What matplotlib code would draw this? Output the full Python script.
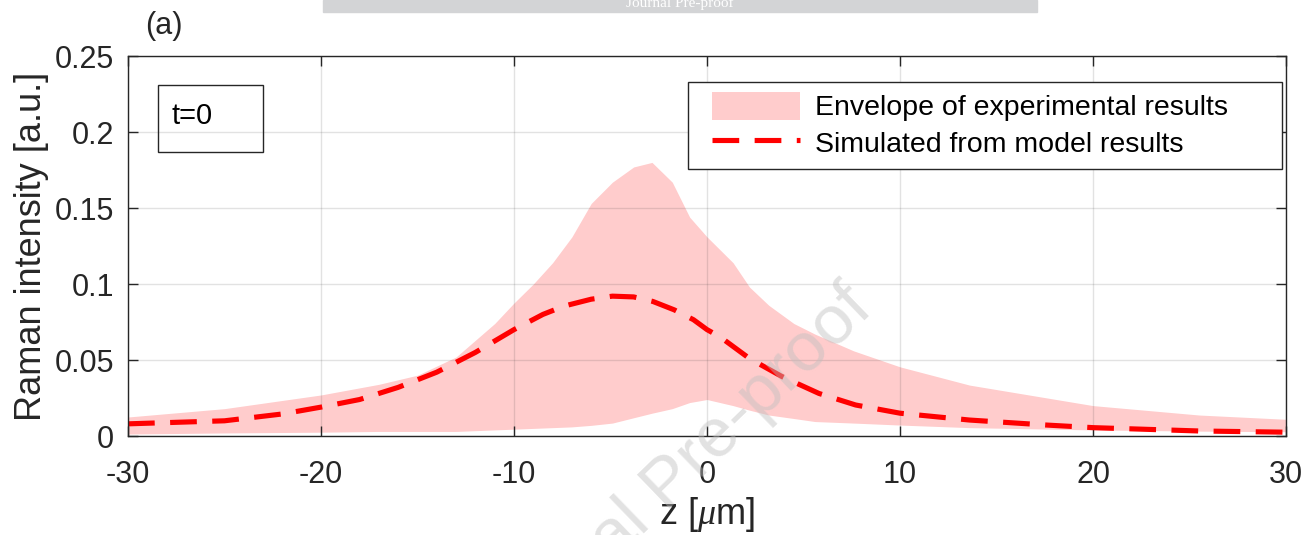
import matplotlib
matplotlib.use("Agg")
import matplotlib.pyplot as plt
from matplotlib.patches import Rectangle, Patch
from matplotlib.lines import Line2D
from matplotlib.legend_handler import HandlerPatch, HandlerLine2D

plt.rcParams['font.family'] = ['Liberation Sans', 'DejaVu Sans']
plt.rcParams['axes.unicode_minus'] = False
plt.rcParams['mathtext.fontset'] = 'custom'
plt.rcParams['mathtext.it'] = 'Liberation Serif:italic'

# envelope of experimental results
z_env = [-30, -25, -20, -17, -15, -13, -11, -10, -9, -8, -7, -6, -4.9, -3.8,
         -2.85, -1.8, -0.9, 0, 1.35, 2.2, 3.2, 4.5, 5.6, 7.6, 10, 13.6, 20, 25.5, 30]
env_upper = [0.0125, 0.018, 0.027, 0.034, 0.040, 0.052, 0.074, 0.0875, 0.100, 0.114,
             0.131, 0.153, 0.167, 0.177, 0.180, 0.167, 0.144, 0.131, 0.114, 0.098,
             0.086, 0.074, 0.067, 0.056, 0.0455, 0.0335, 0.020, 0.0138, 0.011]
env_lower = [0.0013, 0.002, 0.0025, 0.003, 0.003, 0.003, 0.004, 0.0045, 0.005, 0.0055,
             0.006, 0.007, 0.0085, 0.012, 0.015, 0.018, 0.022, 0.024, 0.020, 0.017,
             0.0138, 0.0115, 0.0095, 0.0085, 0.0072, 0.0055, 0.004, 0.0032, 0.0028]

# simulated from model
z_sim = [-30, -25, -22, -20, -18, -16, -14, -12, -10, -8.5, -7.4, -6, -4.9, -3.8,
         -2.8, -1.7, -0.7, 0, 0.7, 2.2, 3.9, 5.8, 7.7, 10, 13.6, 17.6, 20, 25.5, 30]
sim = [0.008, 0.010, 0.0145, 0.019, 0.024, 0.032, 0.042, 0.055, 0.070, 0.080,
       0.0855, 0.0900, 0.0920, 0.0915, 0.0885, 0.083, 0.0765, 0.070, 0.065, 0.051,
       0.039, 0.028, 0.0204, 0.015, 0.0105, 0.0072, 0.0055, 0.0033, 0.0025]

xticks = [-30, -20, -10, 0, 10, 20, 30]
yticks = [0, 0.05, 0.1, 0.15, 0.2, 0.25]
ytick_labels = ['0', '0.05', '0.1', '0.15', '0.2', '0.25']

fill_color = '#ffcccc'
dark = '#262626'

fig = plt.figure(figsize=(13.08, 5.35), dpi=100)
ax = fig.add_axes([128/1308, 1-436/535, 1158/1308, 380/535])

ax.fill_between(z_env, env_lower, env_upper, color=fill_color, lw=0)
line, = ax.plot(z_sim, sim, color='#ff0000', lw=3.7, ls='--')
line.set_dashes([5.2, 3.0])

ax.set_xlim(-30, 30)
ax.set_ylim(0, 0.25)
ax.set_xticks(xticks)
ax.set_yticks(yticks)
ax.set_yticklabels(ytick_labels)
ax.grid(True, color=dark, alpha=0.13, lw=1)
ax.tick_params(direction='in', length=7, width=1, top=True, right=True,
               labelsize=22, colors=dark)
ax.tick_params(axis='x', pad=17)
ax.tick_params(axis='y', pad=10)
for s in ax.spines.values():
    s.set_color(dark)
    s.set_linewidth(1)

ax.set_xlabel(r'z [$\mu$m]', fontsize=26, color=dark, labelpad=4)
ax.set_ylabel('Raman intensity [a.u.]', fontsize=26, color=dark, labelpad=4)

# legend with a MATLAB-like frame
ax.add_patch(Rectangle((560/1158, 267/380), 594/1158, 87/380, transform=ax.transAxes,
                       facecolor='white', ec=dark, lw=1, zorder=4))
h_env = Patch(facecolor=fill_color, edgecolor='none')
h_sim = Line2D([], [], color='#ff0000', lw=3.7, dashes=[5.2, 3.0])
leg = ax.legend([h_env, h_sim],
                ['Envelope of experimental results', 'Simulated from model results'],
                loc='upper left', bbox_to_anchor=(560/1158, 354/380), fontsize=20.5,
                handlelength=3.58, handleheight=1.12, labelspacing=0.25,
                borderpad=0.35, handletextpad=0.53, borderaxespad=0, frameon=False,
                handler_map={h_env: HandlerPatch(xpad=0.49),
                             h_sim: HandlerLine2D(xpad=0.49)})
leg.set_zorder(5)

# t=0 box
ax.add_patch(Rectangle((30/1158, 284/380), 105/1158, 67/380, transform=ax.transAxes,
                       fill=False, ec=dark, lw=1))
ax.text(44/1158, 320/380, 't=0', transform=ax.transAxes, fontsize=21,
        va='center', ha='left')

fig.text(145/1308, 1-26/535, '(a)', fontsize=22, color=dark, va='center')

# journal banner and watermark
fig.patches.append(Rectangle((323/1308, 1-12/535), 714/1308, 12/535,
                             transform=fig.transFigure, color='#d3d4d6', zorder=5))
fig.text(680/1308, 1-10/535, 'Journal Pre-proof', fontsize=11, color='white',
         family='Liberation Serif', ha='center', va='bottom', zorder=6)
fig.text(669/1308, 1-484/535, 'Journal Pre-proof', fontsize=50, color='#bfbfbf',
         alpha=0.45, rotation=44, ha='center', va='center', rotation_mode='anchor',
         zorder=10)

fig.savefig('out.png', dpi=100)
